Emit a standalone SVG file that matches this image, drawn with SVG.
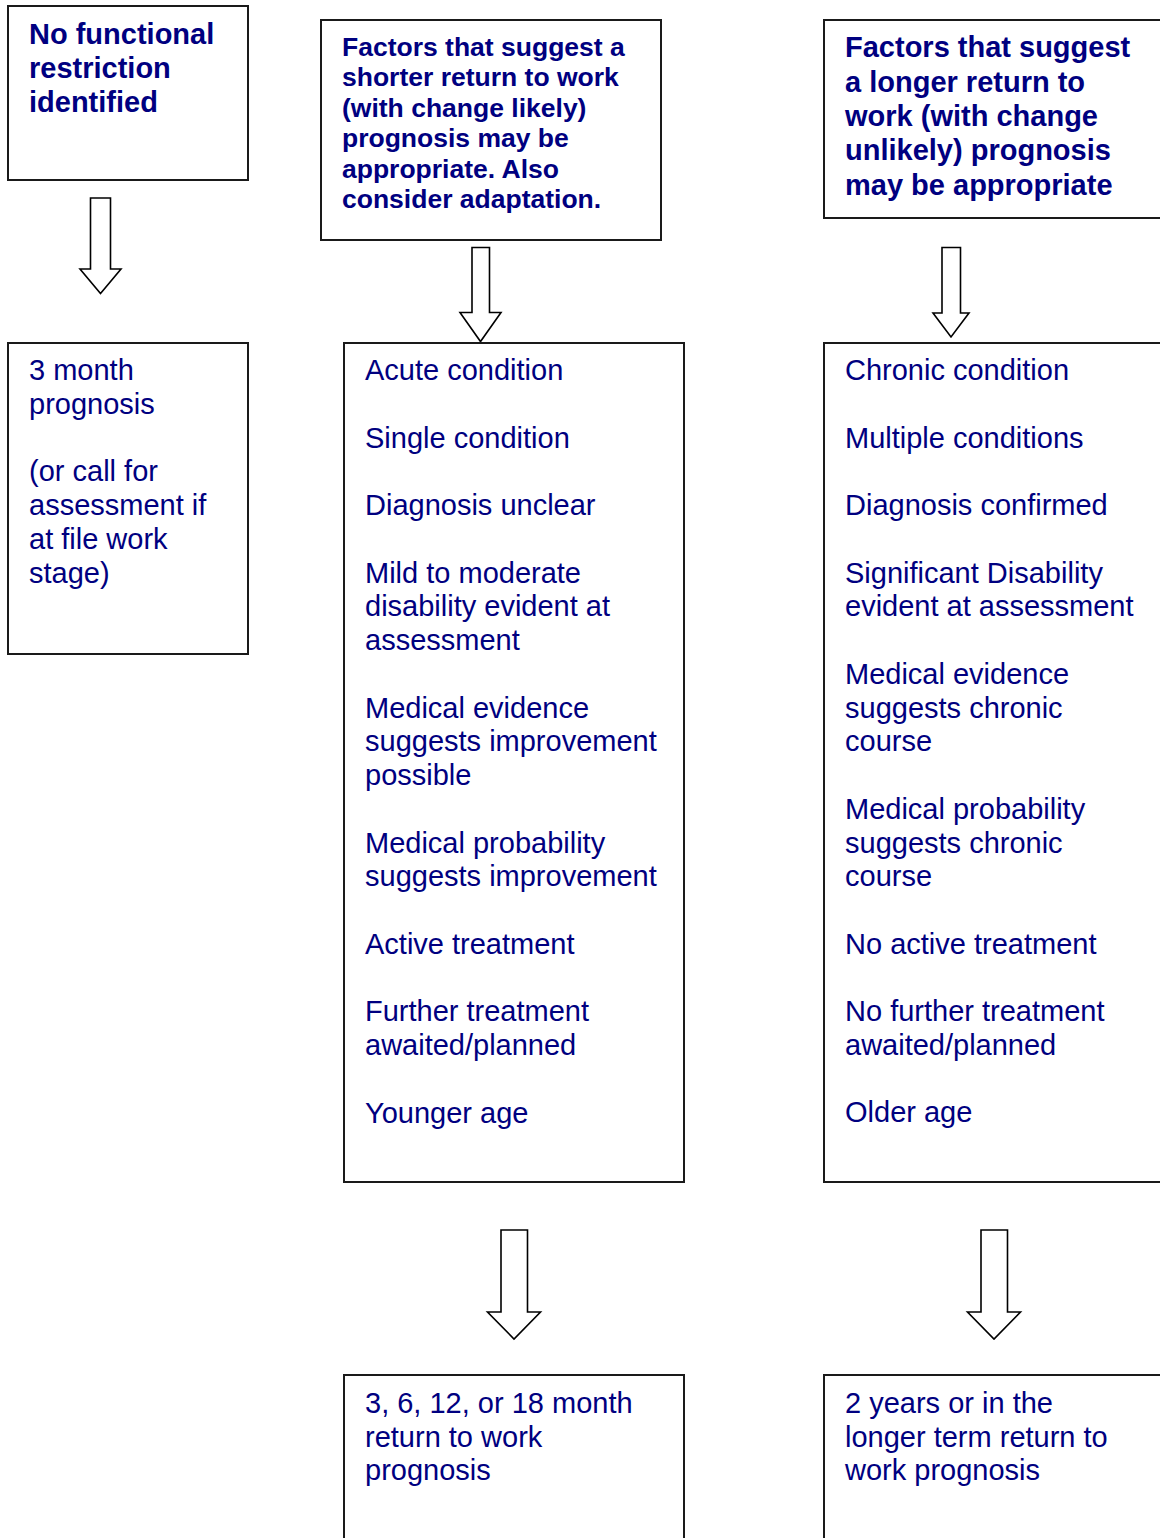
<svg xmlns="http://www.w3.org/2000/svg" width="1160" height="1538" viewBox="0 0 1160 1538">
<style>
.box{fill:#ffffff;stroke:#1a1a1a;stroke-width:2}
.arr{fill:#ffffff;stroke:#000000;stroke-width:1.6;stroke-linejoin:miter}
.t{font-family:"Liberation Sans",Arial,sans-serif;fill:#000080;font-size:29px}
.b{font-weight:bold}
.s{font-size:26.5px}
</style>
<rect width="1160" height="1538" fill="#ffffff"/>
<g id="connectors">
<path class="arr" d="M90.5,198 H110.5 V269 H121 L100.5,293.5 L80,269 H90.5 Z"/>
<path class="arr" d="M472,247.5 H489.5 V312.5 H501 L480.5,341.5 L460,312.5 H472 Z"/>
<path class="arr" d="M942,247.5 H960.5 V313 H969 L951,337 L933,313 H942 Z"/>
<path class="arr" d="M501,1230 H527.5 V1312 H540.5 L514,1339 L487.5,1312 H501 Z"/>
<path class="arr" d="M981,1230 H1007.5 V1312 H1020.5 L994,1339 L967.5,1312 H981 Z"/>
</g>
<g id="no-restriction">
<rect class="box" x="8" y="6" width="240" height="174"/>
<text class="t b" x="29"><tspan x="29" y="44">No functional</tspan><tspan x="29" y="78">restriction</tspan><tspan x="29" y="112">identified</tspan></text>
</g>
<g id="shorter-header">
<rect class="box" x="321" y="20" width="340" height="220"/>
<text class="t b s" x="342"><tspan x="342" y="55.5">Factors that suggest a</tspan><tspan x="342" y="86">shorter return to work</tspan><tspan x="342" y="116.5">(with change likely)</tspan><tspan x="342" y="147">prognosis may be</tspan><tspan x="342" y="177.5">appropriate. Also</tspan><tspan x="342" y="208">consider adaptation.</tspan></text>
</g>
<g id="longer-header">
<rect class="box" x="824" y="20" width="340" height="198"/>
<text class="t b" x="845"><tspan x="845" y="57">Factors that suggest</tspan><tspan x="845" y="91.5">a longer return to</tspan><tspan x="845" y="126">work (with change</tspan><tspan x="845" y="160">unlikely) prognosis</tspan><tspan x="845" y="194.5">may be appropriate</tspan></text>
</g>
<g id="three-month">
<rect class="box" x="8" y="343" width="240" height="311"/>
<text class="t" x="29"><tspan x="29" y="380">3 month</tspan><tspan x="29" y="413.75">prognosis</tspan><tspan x="29" y="481.25">(or call for</tspan><tspan x="29" y="515">assessment if</tspan><tspan x="29" y="548.75">at file work</tspan><tspan x="29" y="582.5">stage)</tspan></text>
</g>
<g id="shorter-factors">
<rect class="box" x="344" y="343" width="340" height="839"/>
<text class="t" x="365"><tspan x="365" y="380">Acute condition</tspan><tspan x="365" y="447.5">Single condition</tspan><tspan x="365" y="515">Diagnosis unclear</tspan><tspan x="365" y="582.5">Mild to moderate</tspan><tspan x="365" y="616.25">disability evident at</tspan><tspan x="365" y="650">assessment</tspan><tspan x="365" y="717.5">Medical evidence</tspan><tspan x="365" y="751.25">suggests improvement</tspan><tspan x="365" y="785">possible</tspan><tspan x="365" y="852.5">Medical probability</tspan><tspan x="365" y="886.25">suggests improvement</tspan><tspan x="365" y="953.75">Active treatment</tspan><tspan x="365" y="1021.25">Further treatment</tspan><tspan x="365" y="1055">awaited/planned</tspan><tspan x="365" y="1122.5">Younger age</tspan></text>
</g>
<g id="longer-factors">
<rect class="box" x="824" y="343" width="340" height="839"/>
<text class="t" x="845"><tspan x="845" y="380">Chronic condition</tspan><tspan x="845" y="447.5">Multiple conditions</tspan><tspan x="845" y="515">Diagnosis confirmed</tspan><tspan x="845" y="582.5">Significant Disability</tspan><tspan x="845" y="616.25">evident at assessment</tspan><tspan x="845" y="683.75">Medical evidence</tspan><tspan x="845" y="717.5">suggests chronic</tspan><tspan x="845" y="751.25">course</tspan><tspan x="845" y="818.75">Medical probability</tspan><tspan x="845" y="852.5">suggests chronic</tspan><tspan x="845" y="886.25">course</tspan><tspan x="845" y="953.75">No active treatment</tspan><tspan x="845" y="1021.25">No further treatment</tspan><tspan x="845" y="1055">awaited/planned</tspan><tspan x="845" y="1121.5">Older age</tspan></text>
</g>
<g id="shorter-outcome">
<rect class="box" x="344" y="1375" width="340" height="200"/>
<text class="t" x="365"><tspan x="365" y="1413">3, 6, 12, or 18 month</tspan><tspan x="365" y="1446.5">return to work</tspan><tspan x="365" y="1480">prognosis</tspan></text>
</g>
<g id="longer-outcome">
<rect class="box" x="824" y="1375" width="340" height="200"/>
<text class="t" x="845"><tspan x="845" y="1413">2 years or in the</tspan><tspan x="845" y="1446.5">longer term return to</tspan><tspan x="845" y="1480">work prognosis</tspan></text>
</g>
</svg>
